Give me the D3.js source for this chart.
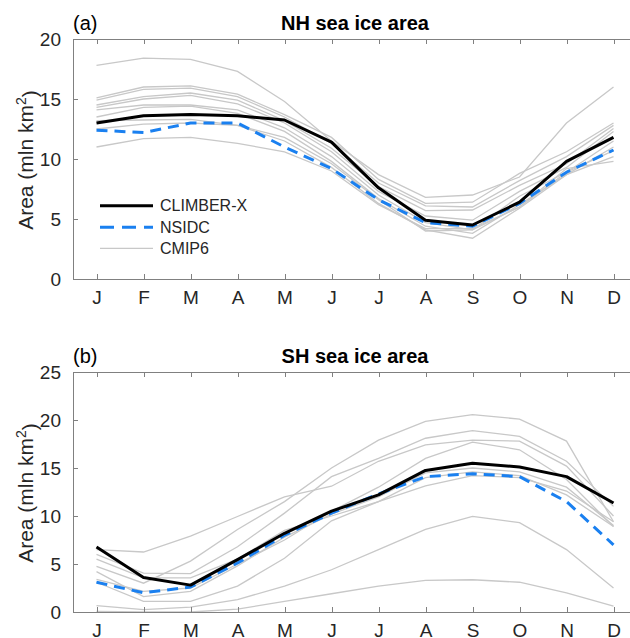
<!DOCTYPE html>
<html>
<head>
<meta charset="utf-8">
<script src="https://cdn.jsdelivr.net/npm/d3@7"></script>
<style>
  body { margin: 0; background: #fff; }
  svg { display: block; font-family: "Liberation Sans", Arial, Helvetica, sans-serif; }
</style>
</head>
<body>
<svg id="chart" width="630" height="638"></svg>
<script>
const months = ["J","F","M","A","M","J","J","A","S","O","N","D"];

// NH sea ice area (mln km2)
const nhClimber = [13.0, 13.6, 13.7, 13.6, 13.25, 11.4, 7.6, 4.9, 4.5, 6.4, 9.8, 11.8];
const nhNsidc   = [12.4, 12.2, 13.0, 13.0, 11.0, 9.2, 6.6, 4.7, 4.4, 6.3, 8.9, 10.75];
const nhCmip6 = [
  [17.8, 18.4, 18.3, 17.3, 14.8, 11.5, 8.7, 6.8, 7.0, 8.5, 13.0, 16.0],
  [15.1, 16.0, 16.1, 15.4, 13.7, 11.8, 8.3, 6.3, 6.4, 8.8, 10.6, 13.0],
  [14.9, 15.8, 15.9, 15.2, 13.5, 11.3, 8.0, 6.1, 6.0, 8.2, 10.2, 12.8],
  [14.5, 15.2, 15.5, 14.9, 13.2, 10.9, 7.7, 5.7, 5.75, 7.8, 9.6, 12.55],
  [14.3, 15.0, 15.3, 14.6, 13.0, 10.6, 7.3, 5.25, 4.9, 7.3, 9.3, 12.3],
  [14.1, 14.5, 14.5, 14.1, 12.6, 10.2, 7.0, 4.7, 4.1, 6.9, 8.9, 11.5],
  [13.5, 14.3, 14.4, 13.8, 12.3, 9.8, 6.7, 4.4, 3.8, 6.2, 8.7, 11.0],
  [13.2, 13.25, 13.3, 12.8, 11.5, 9.3, 6.3, 4.1, 3.4, 5.9, 8.7, 10.2],
  [12.5, 12.9, 13.0, 12.8, 11.8, 9.6, 6.6, 4.0, 4.1, 6.0, 8.9, 10.7],
  [11.0, 11.7, 11.8, 11.3, 10.6, 9.0, 6.2, 4.2, 4.2, 6.0, 9.2, 9.8]
];

// SH sea ice area (mln km2)
const shClimber = [6.77, 3.6, 2.8, 5.45, 8.2, 10.5, 12.2, 14.75, 15.5, 15.1, 14.1, 11.35];
const shNsidc   = [3.1, 2.0, 2.6, 5.1, 8.0, 10.3, 12.3, 14.1, 14.4, 14.1, 11.5, 7.0];
const shCmip6 = [
  [6.5, 6.25, 7.9, 9.95, 12.0, 13.1, 15.7, 17.4, 17.9, 17.8, 15.2, 10.0],
  [4.75, 3.0, 5.3, 8.6, 11.5, 15.0, 17.9, 19.85, 20.55, 20.1, 17.8, 9.4],
  [6.0, 4.05, 4.0, 6.8, 10.3, 14.1, 16.0, 18.1, 18.9, 18.3, 15.7, 11.0],
  [3.4, 2.15, 2.5, 5.0, 7.5, 10.5, 13.0, 16.0, 17.7, 16.9, 13.8, 8.9],
  [5.5, 3.55, 3.55, 5.5, 8.5, 10.0, 11.5, 13.15, 14.2, 14.0, 12.6, 9.4],
  [4.2, 1.6, 2.15, 4.8, 7.8, 10.2, 12.0, 14.5, 15.0, 14.6, 13.0, 9.0],
  [3.1, 1.1, 1.1, 2.7, 5.6, 9.5, 11.5, 14.0, 14.6, 14.2, 12.2, 8.9],
  [0.66, 0.24, 0.5, 1.3, 2.7, 4.4, 6.5, 8.6, 9.95, 9.3, 6.5, 2.5],
  [0.05, 0.0, 0.0, 0.3, 1.1, 1.9, 2.7, 3.3, 3.36, 3.1, 2.0, 0.6]
];

const nhTicks = [0, 5, 10, 15, 20];
const shTicks = [0, 5, 10, 15, 20, 25];
const legendLabels = ["CLIMBER-X", "NSIDC", "CMIP6"];

const svg = d3.select("#chart");
const axisColor = "#262626";
const boxColor = "#808080";
const grayColor = "#c8c8c8";
const blueColor = "#1a80f0";
const dash = "11,7";

const x = d3.scaleLinear().domain([0.5, 12.5]).range([73, 637]);

function panel(cfg) {
  const y = d3.scaleLinear().domain(cfg.domain).range([cfg.bottom, cfg.top]);
  const g = svg.append("g");

  const line = d3.line().x((d, i) => x(i + 1)).y(d => y(d));

  // CMIP6
  cfg.cmip.forEach(s => {
    g.append("path").attr("d", line(s)).attr("fill", "none")
      .attr("stroke", grayColor).attr("stroke-width", 1.3);
  });
  // NSIDC
  g.append("path").attr("d", line(cfg.nsidc)).attr("fill", "none")
    .attr("stroke", blueColor).attr("stroke-width", 3).attr("stroke-dasharray", dash);
  // CLIMBER-X
  g.append("path").attr("d", line(cfg.climber)).attr("fill", "none")
    .attr("stroke", "#000").attr("stroke-width", 3).attr("stroke-linejoin", "round");

  // Box
  g.append("rect").attr("x", x.range()[0]).attr("y", cfg.top)
    .attr("width", x.range()[1] - x.range()[0]).attr("height", cfg.bottom - cfg.top)
    .attr("fill", "none").attr("stroke", boxColor).attr("stroke-width", 1)
    .attr("shape-rendering", "crispEdges");

  // Axes with inward ticks
  const xb = d3.axisBottom(x).tickValues(d3.range(1, 13)).tickFormat(d => months[d - 1])
    .tickSizeInner(-5).tickSizeOuter(0).tickPadding(12);
  const xg = g.append("g").attr("transform", `translate(0,${cfg.bottom})`).call(xb);
  const xt = d3.axisTop(x).tickValues(d3.range(1, 13)).tickFormat("")
    .tickSizeInner(-5).tickSizeOuter(0);
  const xtg = g.append("g").attr("transform", `translate(0,${cfg.top})`).call(xt);
  const yl = d3.axisLeft(y).tickValues(cfg.ticks).tickFormat(d3.format("d"))
    .tickSizeInner(-5).tickSizeOuter(0).tickPadding(12);
  const yg = g.append("g").attr("transform", `translate(${x.range()[0]},0)`).call(yl);
  const yr = d3.axisRight(y).tickValues(cfg.ticks).tickFormat("")
    .tickSizeInner(-5).tickSizeOuter(0);
  const yrg = g.append("g").attr("transform", `translate(${x.range()[1]},0)`).call(yr);

  [xg, xtg, yg, yrg].forEach(a => {
    a.select(".domain").remove();
    a.selectAll(".tick line").attr("stroke", boxColor).attr("shape-rendering", "crispEdges");
    a.selectAll(".tick text").attr("fill", axisColor).style("font-size", "19px")
      .style("font-family", "'Liberation Sans', Arial, sans-serif");
  });
  xg.selectAll(".tick text").attr("dy", "0.71em");

  // Y label
  const yl2 = g.append("text")
    .attr("transform", `translate(33,${(cfg.top + cfg.bottom) / 2 + 1}) rotate(-90)`)
    .attr("text-anchor", "middle").attr("fill", axisColor).style("font-size", "21px");
  yl2.append("tspan").text("Area (mln km");
  yl2.append("tspan").attr("dy", "-0.5em").style("font-size", "14px").text("2");
  yl2.append("tspan").attr("dy", "0.5em").text(")");

  // Title and panel label
  g.append("text").attr("x", (x.range()[0] + x.range()[1]) / 2).attr("y", cfg.top - 9)
    .attr("text-anchor", "middle").attr("fill", "#000").style("font-size", "20px")
    .style("font-weight", "bold").text(cfg.title);
  g.append("text").attr("x", 73).attr("y", cfg.top - 9)
    .attr("fill", "#000").style("font-size", "20px").text(cfg.label);

  return { g, y };
}

panel({ domain: [0, 20], top: 39, bottom: 279, ticks: nhTicks,
  cmip: nhCmip6, nsidc: nhNsidc, climber: nhClimber, title: "NH sea ice area", label: "(a)" });

panel({ domain: [0, 25], top: 372, bottom: 612, ticks: shTicks,
  cmip: shCmip6, nsidc: shNsidc, climber: shClimber, title: "SH sea ice area", label: "(b)" });

// Legend (top panel)
const lg = svg.append("g");
const legendY = [205.7, 227.3, 248.3];
const legendStyles = [
  { stroke: "#000", width: 3, dash: null },
  { stroke: blueColor, width: 3, dash: "14,8" },
  { stroke: grayColor, width: 1.3, dash: null }
];
legendLabels.forEach((lab, i) => {
  const st = legendStyles[i];
  const l = lg.append("line").attr("x1", 100).attr("x2", 153)
    .attr("y1", legendY[i]).attr("y2", legendY[i])
    .attr("stroke", st.stroke).attr("stroke-width", st.width);
  if (st.dash) l.attr("stroke-dasharray", st.dash);
  lg.append("text").attr("x", 160).attr("y", legendY[i]).attr("dy", "0.35em")
    .attr("fill", axisColor).style("font-size", "16px").text(lab);
});
</script>
</body>
</html>
